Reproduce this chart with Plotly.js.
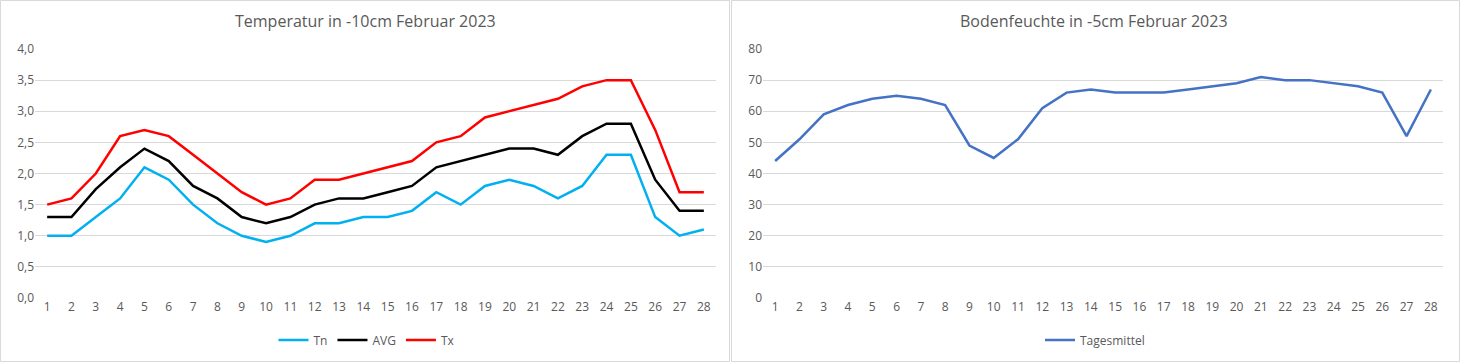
<!DOCTYPE html>
<html>
<head>
<meta charset="utf-8">
<script src="https://cdn.plot.ly/plotly-3.0.1.min.js"></script>
<style>html,body{margin:0;padding:0;background:#fff;}#chart{width:1460px;height:362px;}</style>
</head>
<body>
<div id="chart"></div>
<script>
const days = [1,2,3,4,5,6,7,8,9,10,11,12,13,14,15,16,17,18,19,20,21,22,23,24,25,26,27,28];
const dayLabels = days.map(String);
const tn  = [1.0,1.0,1.3,1.6,2.1,1.9,1.5,1.2,1.0,0.9,1.0,1.2,1.2,1.3,1.3,1.4,1.7,1.5,1.8,1.9,1.8,1.6,1.8,2.3,2.3,1.3,1.0,1.1];
const avg = [1.3,1.3,1.75,2.1,2.4,2.2,1.8,1.6,1.3,1.2,1.3,1.5,1.6,1.6,1.7,1.8,2.1,2.2,2.3,2.4,2.4,2.3,2.6,2.8,2.8,1.9,1.4,1.4];
const tx  = [1.5,1.6,2.0,2.6,2.7,2.6,2.3,2.0,1.7,1.5,1.6,1.9,1.9,2.0,2.1,2.2,2.5,2.6,2.9,3.0,3.1,3.2,3.4,3.5,3.5,2.7,1.7,1.7];
const moisture = [44,51,59,62,64,65,64,62,49,45,51,61,66,67,66,66,66,67,68,69,71,70,70,69,68,66,52,67];
const tempTicks = [0,0.5,1,1.5,2,2.5,3,3.5,4];
const tempTickText = ["0,0","0,5","1,0","1,5","2,0","2,5","3,0","3,5","4,0"];
const moistTicks = [0,10,20,30,40,50,60,70,80];
const titleLeft = "Temperatur in -10cm Februar 2023";
const titleRight = "Bodenfeuchte in -5cm Februar 2023";

const W = 1460, H = 362;
const fontFam = "Open Sans, Noto Sans, sans-serif";
const grey = "#595959";
const py = v => 1 - v / H;

const traces = [
  {x: dayLabels, y: tn, name: "Tn", type: "scatter", mode: "lines", line: {color: "#00B0F0", width: 2.5}, xaxis: "x", yaxis: "y", legend: "legend"},
  {x: dayLabels, y: avg, name: "AVG", type: "scatter", mode: "lines", line: {color: "#000000", width: 2.5}, xaxis: "x", yaxis: "y", legend: "legend"},
  {x: dayLabels, y: tx, name: "Tx", type: "scatter", mode: "lines", line: {color: "#FF0000", width: 2.5}, xaxis: "x", yaxis: "y", legend: "legend"},
  {x: dayLabels, y: moisture, name: "Tagesmittel", type: "scatter", mode: "lines", line: {color: "#4472C4", width: 2.5}, xaxis: "x2", yaxis: "y2", legend: "legend2"}
];

const axCommonX = {type: "category", showgrid: false, zeroline: false, showline: false, ticks: "", tickfont: {family: fontFam, size: 12, color: grey}, fixedrange: true};
const axCommonY = {showgrid: true, gridcolor: "#d9d9d9", gridwidth: 1, zeroline: false, showline: false, ticks: "", tickfont: {family: fontFam, size: 12, color: grey}, fixedrange: true};

const layout = {
  width: W, height: H,
  margin: {l: 0, r: 0, t: 0, b: 0},
  paper_bgcolor: "#ffffff", plot_bgcolor: "rgba(0,0,0,0)",
  showlegend: true,
  xaxis: Object.assign({}, axCommonX, {domain: [35/W, 716/W], anchor: "y", range: [-0.5, 27.5]}),
  yaxis: Object.assign({}, axCommonY, {domain: [py(298), py(49)], anchor: "x", range: [0, 4], tickvals: tempTicks, ticktext: tempTickText}),
  xaxis2: Object.assign({}, axCommonX, {domain: [763/W, 1443/W], anchor: "y2", range: [-0.5, 27.5]}),
  yaxis2: Object.assign({}, axCommonY, {domain: [py(298), py(49)], anchor: "x2", range: [0, 80], tickvals: moistTicks}),
  legend: {orientation: "h", x: 367/W, xanchor: "center", y: py(340), yanchor: "middle", font: {family: fontFam, size: 12, color: grey}, bgcolor: "rgba(0,0,0,0)", itemwidth: 30},
  legend2: {orientation: "h", x: 1095/W, xanchor: "center", y: py(340), yanchor: "middle", font: {family: fontFam, size: 12, color: grey}, bgcolor: "rgba(0,0,0,0)", itemwidth: 30},
  annotations: [
    {text: titleLeft, xref: "paper", yref: "paper", x: 365/W, y: py(21), xanchor: "center", yanchor: "middle", showarrow: false, font: {family: fontFam, size: 16, color: grey}},
    {text: titleRight, xref: "paper", yref: "paper", x: 1094/W, y: py(21), xanchor: "center", yanchor: "middle", showarrow: false, font: {family: fontFam, size: 16, color: grey}}
  ],
  shapes: [
    {type: "rect", xref: "paper", yref: "paper", x0: 0.5/W, x1: 729.5/W, y0: py(361.5), y1: py(0.5), line: {color: "#d9d9d9", width: 1}},
    {type: "rect", xref: "paper", yref: "paper", x0: 731.5/W, x1: 1459.5/W, y0: py(361.5), y1: py(0.5), line: {color: "#d9d9d9", width: 1}}
  ]
};

Plotly.newPlot("chart", traces, layout, {displayModeBar: false, staticPlot: true});
</script>
</body>
</html>
